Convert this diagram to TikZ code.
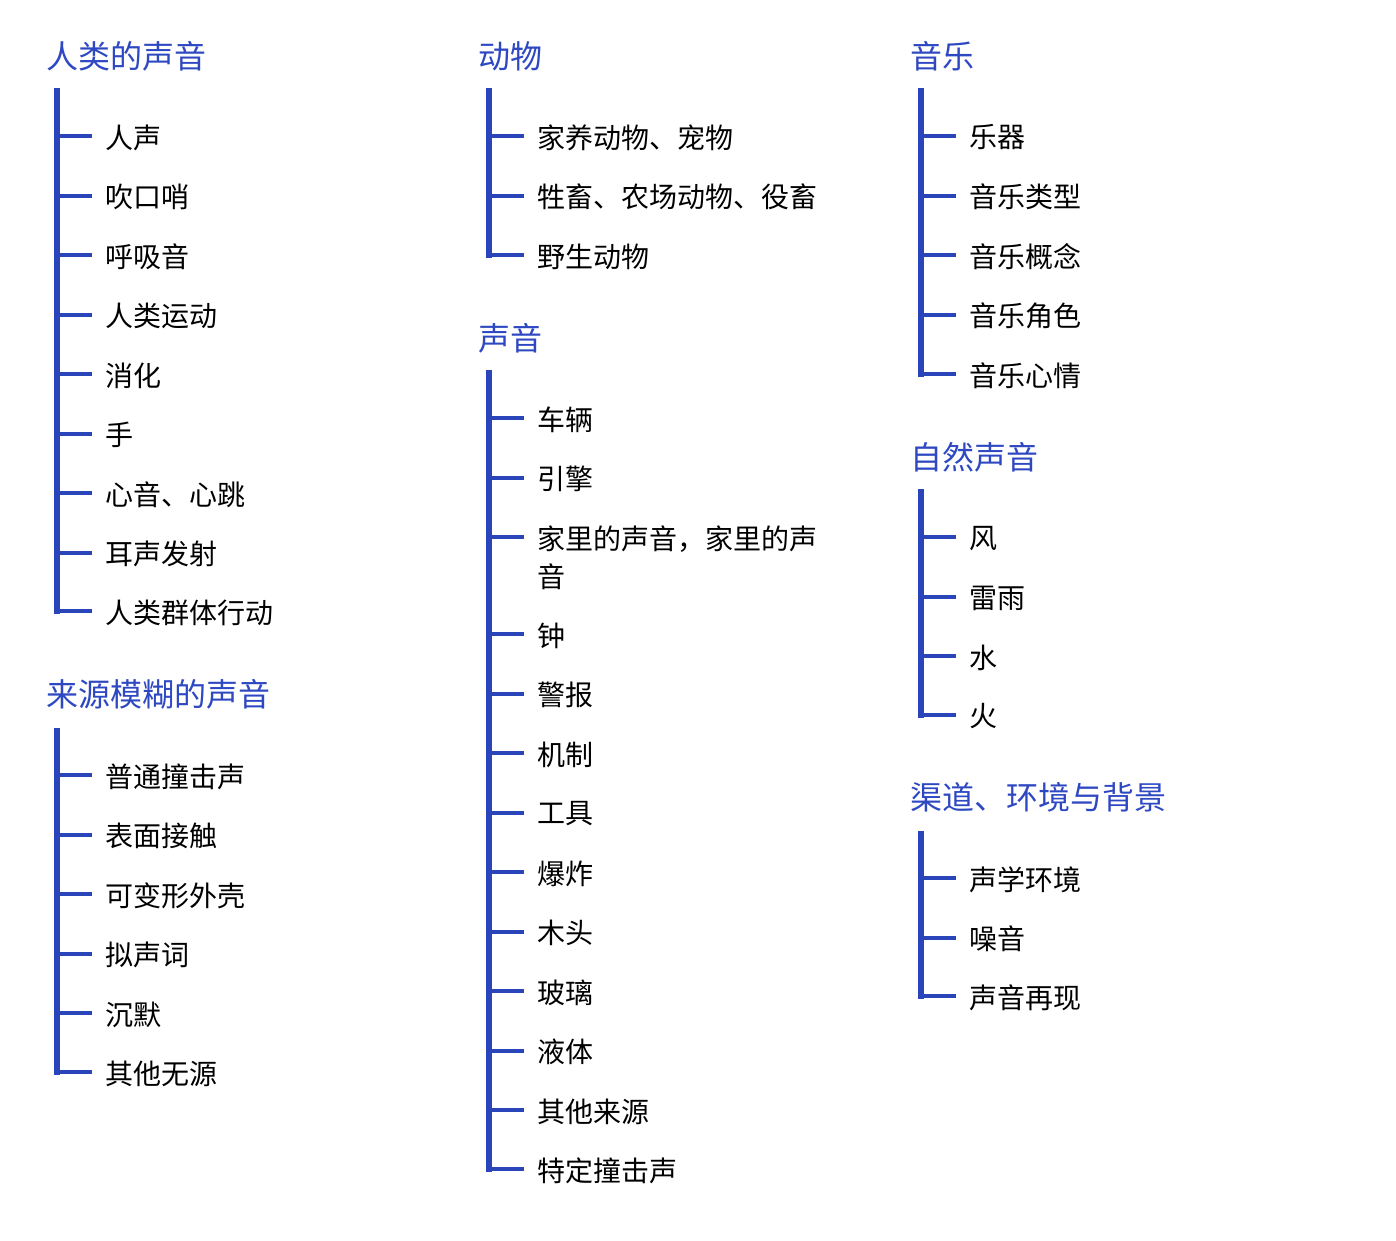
\documentclass[tikz,border=0pt]{standalone}
\usepackage{fontspec}
\setmainfont{Noto Sans CJK SC}
\definecolor{lineblue}{RGB}{42,68,186}
\definecolor{headblue}{RGB}{46,72,194}
\tikzset{
  head/.style={anchor=west, inner sep=0pt, text=headblue, font=\fontsize{32}{38}\selectfont},
  item/.style={anchor=west, inner sep=0pt, align=left, text=black, font=\fontsize{28}{38}\selectfont},
  bar/.style={draw=lineblue, line width=5.5pt, line cap=rect},
  tick/.style={draw=lineblue, line width=4pt, shorten >=13pt},
}
% #1 group name, #2 bar x, #3 heading y, #4 heading, #5 bar top, #6 items (tick y / text offset / label)
\newcommand\soundgroup[6]{%
  \node[head] (#1) at ({#2-11},#3) {#4};
  \coordinate (#1-k0) at (#2,{#5+3});
  \foreach \yy/\dy/\lbl [count=\i, remember=\i as \j (initially 0)] in {#6} {
    \coordinate (#1-k\i) at (#2,\yy);
    \node[item] (#1-\i) at ({#2+48},{\yy+\dy+1.5}) {\lbl};
    \draw[bar] (#1-k\j) -- (#1-k\i);
    \draw[tick] (#1-k\i) -- (#1-k\i -| #1-\i.west);
  }%
}
\begin{document}
\begin{tikzpicture}[x=1pt,y=-1pt]
\useasboundingbox (0,0) rectangle (1396,1240);

\soundgroup{human}{57}{56}{人类的声音}{88}{
  136/0/人声, 195.5/0/吹口哨, 255/0/呼吸音, 314.5/0/人类运动, 374/0/消化,
  433.5/0/手, 493/0/心音、心跳, 552.5/0/耳声发射, 611/0/人类群体行动}

\soundgroup{vague}{57}{694}{来源模糊的声音}{728}{
  775/0/普通撞击声, 834.5/0/表面接触, 894/0/可变形外壳, 953.5/0/拟声词,
  1013/0/沉默, 1072/0/其他无源}

\soundgroup{animal}{489}{56}{动物}{88}{
  136/0/家养动物、宠物, 195.5/0/牲畜、农场动物、役畜, 255/0/野生动物}

\soundgroup{sound}{489}{338}{声音}{370}{
  418/0/车辆, 477.5/0/引擎, 537/19/家里的声音，家里的声\\音, 634/0/钟,
  693.5/0/警报, 753/0/机制, 812.5/0/工具, 872/0/爆炸, 931.5/0/木头,
  991/0/玻璃, 1050.5/0/液体, 1110/0/其他来源, 1169/0/特定撞击声}

\soundgroup{music}{921}{56}{音乐}{88}{
  136/0/乐器, 195.5/0/音乐类型, 255/0/音乐概念, 314.5/0/音乐角色, 374/0/音乐心情}

\soundgroup{nature}{921}{457}{自然声音}{489}{
  537/0/风, 596.5/0/雷雨, 656/0/水, 715/0/火}

\soundgroup{channel}{921}{797}{渠道、环境与背景}{831}{
  878/0/声学环境, 937.5/0/噪音, 996/0/声音再现}
\end{tikzpicture}
\end{document}
